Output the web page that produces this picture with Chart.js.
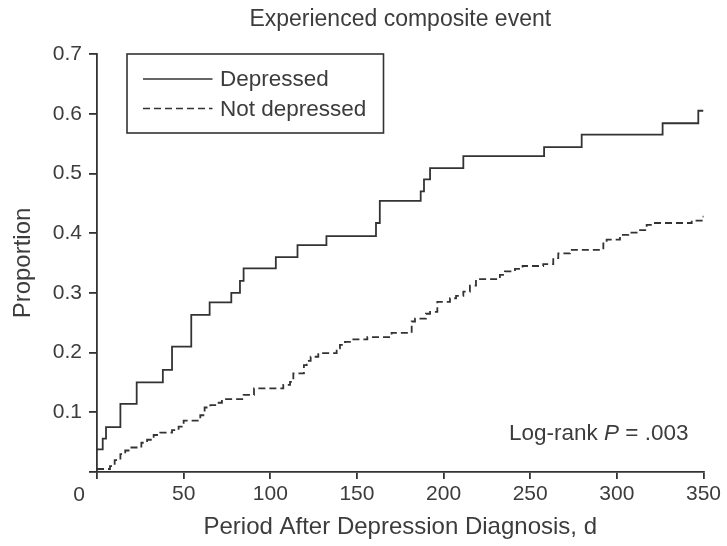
<!DOCTYPE html>
<html>
<head>
<meta charset="utf-8">
<script src="https://cdn.jsdelivr.net/npm/chart.js@4/dist/chart.umd.min.js"></script>
<style>
  html, body { margin: 0; padding: 0; background: #fff; }
  canvas { display: block; }
</style>
</head>
<body>
<canvas id="km" width="727" height="546"></canvas>
<script>
// Cumulative proportion with a composite event, step points (day, proportion)
const depressedDays = [0, 3.3, 5.2, 13.5, 22.9, 38.0, 43.3, 54.4, 65.0, 77.5, 82.5, 84.6, 103.2, 115.7, 132.4, 161.0, 163.2, 186.8, 188.7, 192.2, 211.4, 258.0, 279.7, 326.4, 347.0, 350];
const depressedProp = [0.038, 0.056, 0.075, 0.114, 0.150, 0.171, 0.210, 0.263, 0.284, 0.300, 0.320, 0.341, 0.360, 0.380, 0.395, 0.417, 0.454, 0.470, 0.490, 0.509, 0.529, 0.544, 0.565, 0.584, 0.605, 0.605];

const notDepressedDays = [0, 7.5, 10.2, 13.5, 16.3, 19.2, 25.6, 28.9, 32.7, 36.5, 43.3, 47.1, 50.0, 59.6, 62.1, 65.4, 69.2, 72.1, 84.6, 90.6, 107.5, 111.4, 113.3, 119.4, 121.0, 123.3, 127.7, 138.3, 140.2, 143.1, 147.0, 156.0, 170.0, 181.6, 183.5, 189.8, 192.2, 196.4, 203.7, 207.2, 211.4, 215.2, 218.7, 232.5, 235.4, 241.2, 245.6, 257.5, 263.3, 266.2, 272.9, 292.2, 294.1, 301.8, 306.6, 311.4, 317.2, 321.0, 343.2, 349.0, 350];
const notDepressedProp = [0.005, 0.010, 0.020, 0.030, 0.036, 0.041, 0.049, 0.054, 0.062, 0.066, 0.070, 0.076, 0.086, 0.095, 0.108, 0.112, 0.116, 0.122, 0.129, 0.140, 0.146, 0.151, 0.165, 0.179, 0.186, 0.193, 0.199, 0.207, 0.213, 0.218, 0.222, 0.226, 0.233, 0.252, 0.257, 0.265, 0.268, 0.285, 0.291, 0.295, 0.302, 0.312, 0.323, 0.330, 0.336, 0.340, 0.345, 0.348, 0.358, 0.366, 0.372, 0.383, 0.389, 0.397, 0.401, 0.405, 0.414, 0.417, 0.421, 0.425, 0.429];

const seriesLabels = ['Depressed', 'Not depressed'];
const xTickValues = [0, 50, 100, 150, 200, 250, 300, 350];
const yTickValues = [0, 0.1, 0.2, 0.3, 0.4, 0.5, 0.6, 0.7];

const chartTitle = 'Experienced composite event';
const xTitle = 'Period After Depression Diagnosis, d';
const yTitle = 'Proportion';
const pValueText = '.003';

const INK = '#333333';
const TEXT = '#3c3c3c';
const FONT = '"Liberation Sans", Arial, Helvetica, sans-serif';

const toPoints = (xs, ys) => xs.map((x, i) => ({ x: x, y: ys[i] }));

// Title, origin label, legend box and log-rank annotation
const annotations = {
  id: 'annotations',
  afterDraw(chart) {
    const ctx = chart.ctx;
    const area = chart.chartArea;
    const xs = chart.scales.x;
    ctx.save();
    ctx.fillStyle = TEXT;

    // title
    ctx.font = '23px ' + FONT;
    ctx.textAlign = 'center';
    ctx.textBaseline = 'middle';
    ctx.fillText(chartTitle, (area.left + area.right) / 2, 20);

    // shared origin label
    ctx.font = '21px ' + FONT;
    ctx.fillText(String(xTickValues[0]), xs.getPixelForValue(xTickValues[0]) - 18, 495);

    // legend frame
    const lx = area.left + 30, ly = area.top, lw = 256.5, lh = 79;
    ctx.strokeStyle = INK;
    ctx.lineWidth = 1.6;
    ctx.strokeRect(lx, ly, lw, lh);
    const rows = [25, 54.5];
    chart.data.datasets.forEach((ds, i) => {
      const y = ly + rows[i];
      ctx.beginPath();
      ctx.setLineDash(ds.borderDash || []);
      ctx.lineWidth = 1.6;
      ctx.moveTo(lx + 16, y);
      ctx.lineTo(lx + 85.5, y);
      ctx.stroke();
      ctx.setLineDash([]);
      ctx.font = '22.5px ' + FONT;
      ctx.textAlign = 'left';
      ctx.textBaseline = 'middle';
      ctx.fillText(ds.label, lx + 93, y + 1);
    });

    // log-rank p value
    ctx.textAlign = 'left';
    ctx.textBaseline = 'middle';
    let tx = 509;
    const ty = 434;
    ctx.font = '22.5px ' + FONT;
    ctx.fillText('Log-rank ', tx, ty);
    tx += ctx.measureText('Log-rank ').width;
    ctx.font = 'italic 22.5px ' + FONT;
    ctx.fillText('P', tx, ty);
    tx += ctx.measureText('P').width;
    ctx.font = '22.5px ' + FONT;
    ctx.fillText(' = ' + pValueText, tx, ty);

    ctx.restore();
  }
};

new Chart(document.getElementById('km'), {
  type: 'line',
  data: {
    datasets: [
      {
        label: seriesLabels[0],
        data: toPoints(depressedDays, depressedProp),
        borderColor: INK,
        borderWidth: 1.8,
        borderDash: [],
        stepped: 'before',
        pointRadius: 0,
        fill: false
      },
      {
        label: seriesLabels[1],
        data: toPoints(notDepressedDays, notDepressedProp),
        borderColor: INK,
        borderWidth: 1.8,
        borderDash: [7, 4],
        stepped: 'before',
        pointRadius: 0,
        fill: false
      }
    ]
  },
  options: {
    responsive: false,
    animation: false,
    devicePixelRatio: 1,
    layout: { padding: { top: 54, right: 23.5, bottom: 0, left: 0 } },
    plugins: {
      legend: { display: false },
      title: { display: false },
      tooltip: { enabled: false }
    },
    scales: {
      x: {
        type: 'linear',
        min: 0,
        max: 350,
        afterBuildTicks: s => { s.ticks = xTickValues.map(v => ({ value: v })); },
        afterFit: s => { s.height = 74; },
        border: { display: true, color: INK, width: 1.8 },
        grid: { display: true, drawOnChartArea: false, drawTicks: true, tickLength: 7, color: INK, lineWidth: 1.8 },
        ticks: {
          color: TEXT,
          font: { family: FONT, size: 21 },
          padding: 3,
          maxRotation: 0,
          autoSkip: false,
          callback: v => (v === 0 ? '' : String(v))
        },
        title: {
          display: true,
          text: xTitle,
          color: TEXT,
          font: { family: FONT, size: 24 },
          padding: { top: 0, bottom: 4 }
        }
      },
      y: {
        type: 'linear',
        min: 0,
        max: 0.7,
        afterBuildTicks: s => { s.ticks = yTickValues.map(v => ({ value: v })); },
        afterFit: s => { s.width = 97; },
        border: { display: true, color: INK, width: 1.8 },
        grid: { display: true, drawOnChartArea: false, drawTicks: true, tickLength: 8, color: INK, lineWidth: 1.8 },
        ticks: {
          color: TEXT,
          font: { family: FONT, size: 21 },
          padding: 7,
          autoSkip: false,
          callback: v => (v === 0 ? '' : v.toFixed(1))
        },
        title: {
          display: true,
          text: yTitle,
          color: TEXT,
          font: { family: FONT, size: 24 },
          padding: { top: 9, bottom: 0 }
        }
      }
    }
  },
  plugins: [annotations]
});
</script>
</body>
</html>
